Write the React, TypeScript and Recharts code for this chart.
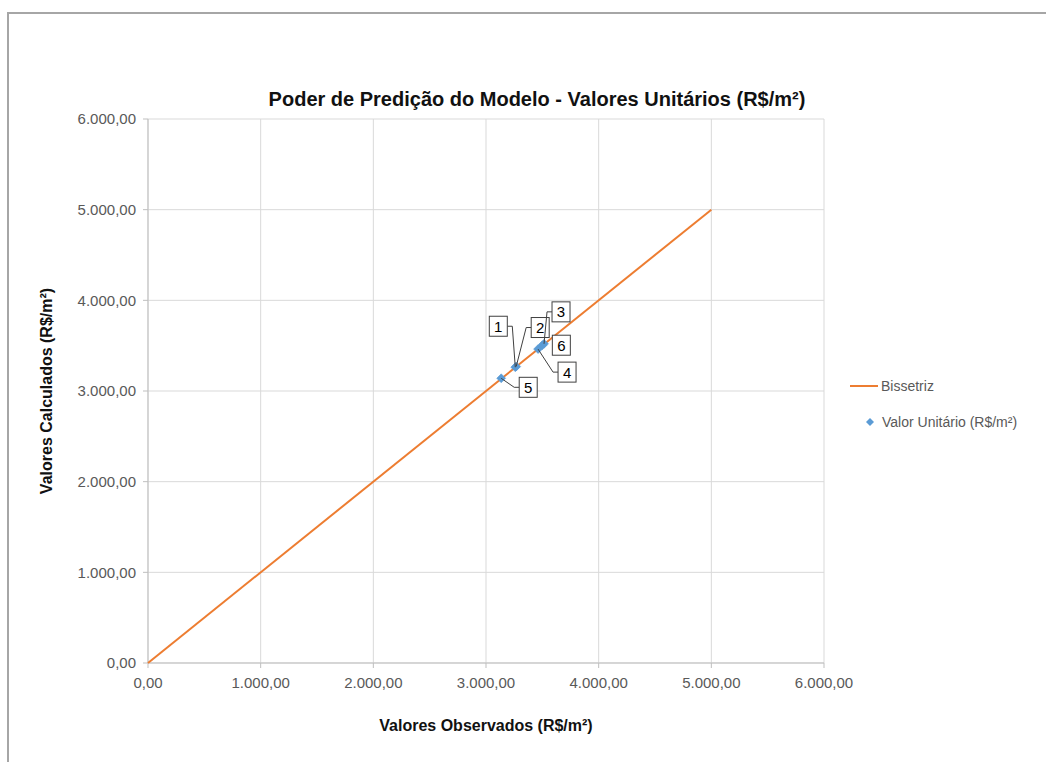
import React from 'react';
import { ScatterChart, Scatter, XAxis, YAxis, CartesianGrid, Legend } from 'recharts';

const chartTitle = 'Poder de Predição do Modelo - Valores Unitários (R$/m²)';
const xTitle = 'Valores Observados (R$/m²)';
const yTitle = 'Valores Calculados (R$/m²)';
const bisectorName = 'Bissetriz';
const pointsName = 'Valor Unitário (R$/m²)';

const bisectorX = [0, 5000];
const bisectorY = [0, 5000];

const pointIds = ['1', '2', '3', '4', '5', '6'];
const observed = [3260, 3268, 3515, 3462, 3135, 3500];
const calculated = [3262, 3270, 3520, 3462, 3140, 3505];

const axisTicks = [0, 1000, 2000, 3000, 4000, 5000, 6000];

const bisectorData = bisectorX.map((x, i) => ({ x, y: bisectorY[i] }));
const pointData = pointIds.map((id, i) => ({ id, x: observed[i], y: calculated[i] }));

// label box placement relative to each point (pixels), Excel-style callouts
const labelOffsets: Record<string, { dx: number; dy: number; leader: boolean }> = {
  '1': { dx: -17, dy: -41, leader: true },
  '2': { dx: 24, dy: -39, leader: true },
  '3': { dx: 17, dy: -32, leader: true },
  '4': { dx: 29, dy: 23, leader: true },
  '5': { dx: 27, dy: 9, leader: true },
  '6': { dx: 19, dy: 0, leader: false },
};

const FONT = '"Liberation Sans", Arial, sans-serif';
const ORANGE = '#ED7D31';
const BLUE = '#5B9BD5';

const fmt = (v: number) => {
  const [i, d] = v.toFixed(2).split('.');
  return i.replace(/\B(?=(\d{3})+(?!\d))/g, '.') + ',' + d;
};

const Diamond = (props: any) => {
  const { cx, cy } = props;
  if (cx == null || cy == null) return <g />;
  const r = 4.5;
  return (
    <polygon
      points={`${cx},${cy - r} ${cx + r},${cy} ${cx},${cy + r} ${cx - r},${cy}`}
      fill={BLUE}
      stroke={BLUE}
      strokeWidth={0.5}
    />
  );
};

const Callout = (props: any) => {
  const { cx, cy, payload } = props;
  if (cx == null || cy == null || !payload) return <g />;
  const o = labelOffsets[payload.id];
  const bx = cx + o.dx;
  const by = cy + o.dy;
  const w = 18;
  const h = 20;
  const side = o.dx > 0 ? -1 : 1;
  const sx = bx + (side * w) / 2;
  const ex = sx + side * 5;
  return (
    <g>
      {o.leader && (
        <polyline
          points={`${sx},${by} ${ex},${by} ${cx},${cy}`}
          fill="none"
          stroke="#404040"
          strokeWidth={1}
        />
      )}
      <rect x={bx - w / 2} y={by - h / 2} width={w} height={h} fill="#fff" stroke="#404040" strokeWidth={1} />
      <text
        x={bx}
        y={by + 5.5}
        textAnchor="middle"
        fontSize={15}
        fontFamily={FONT}
        fill="#000"
      >
        {payload.id}
      </text>
    </g>
  );
};

const LegendContent = () => (
  <div style={{ fontFamily: FONT, fontSize: 14, color: '#595959', width: 200 }}>
    <div style={{ display: 'flex', alignItems: 'center', height: 20 }}>
      <svg width={36} height={20}>
        <line x1={5} y1={10} x2={33} y2={10} stroke={ORANGE} strokeWidth={2} />
      </svg>
      <span>{bisectorName}</span>
    </div>
    <div style={{ display: 'flex', alignItems: 'center', height: 20, marginTop: 16 }}>
      <svg width={37} height={20}>
        <polygon points="25,6 29,10 25,14 21,10" fill={BLUE} />
      </svg>
      <span>{pointsName}</span>
    </div>
  </div>
);

export default function App() {
  return (
    <div style={{ position: 'absolute', left: 0, top: 0, width: 1046, height: 762, background: '#fff', overflow: 'hidden' }}>
      <div
        style={{
          position: 'absolute',
          left: 7,
          top: 12,
          width: 1046,
          height: 762,
          borderTop: '2px solid #a6a6a6',
          borderLeft: '2px solid #a6a6a6',
        }}
      />
      <div
        style={{
          position: 'absolute',
          left: 237,
          top: 87,
          width: 600,
          textAlign: 'center',
          fontFamily: FONT,
          fontWeight: 'bold',
          fontSize: 20,
          lineHeight: '24px',
          color: '#111',
        }}
      >
        {chartTitle}
      </div>
      <div style={{ position: 'absolute', left: 0, top: 0 }}>
        <ScatterChart width={1046} height={762} margin={{ top: 119, right: 222, bottom: 0, left: 0 }}>
          <CartesianGrid stroke="#D9D9D9" strokeWidth={1} />
          <XAxis
            type="number"
            dataKey="x"
            domain={[0, 6000]}
            ticks={axisTicks}
            tickFormatter={fmt}
            height={99}
            interval={0}
            stroke="#BFBFBF"
            tickSize={5}
            tickMargin={9}
            tick={{ fontSize: 15, fill: '#595959', fontFamily: FONT }}
            label={{
              value: xTitle,
              position: 'insideBottom',
              offset: 31,
              style: { fontSize: 16, fontWeight: 'bold', fill: '#111', fontFamily: FONT },
            }}
          />
          <YAxis
            type="number"
            dataKey="y"
            domain={[0, 6000]}
            ticks={axisTicks}
            tickFormatter={fmt}
            width={148}
            interval={0}
            stroke="#BFBFBF"
            tickSize={5}
            tickMargin={7}
            tick={{ fontSize: 15, fill: '#595959', fontFamily: FONT }}
            label={{
              value: yTitle,
              angle: -90,
              position: 'insideLeft',
              offset: 46,
              style: { fontSize: 16, fontWeight: 'bold', fill: '#111', fontFamily: FONT, textAnchor: 'middle' },
            }}
          />
          <Legend
            layout="vertical"
            align="center"
            verticalAlign="middle"
            content={LegendContent}
            wrapperStyle={{ position: 'absolute', left: 845, top: 376, width: 200 }}
          />
          <Scatter
            name={bisectorName}
            data={bisectorData}
            line={{ stroke: ORANGE, strokeWidth: 2 }}
            shape={() => <g />}
            fill={ORANGE}
            legendType="line"
            isAnimationActive={false}
          />
          <Scatter
            name={pointsName}
            data={pointData}
            shape={Diamond}
            fill={BLUE}
            legendType="diamond"
            isAnimationActive={false}
          />
          <Scatter
            name="labels"
            data={pointData}
            shape={Callout}
            legendType="none"
            isAnimationActive={false}
          />
        </ScatterChart>
      </div>
    </div>
  );
}
